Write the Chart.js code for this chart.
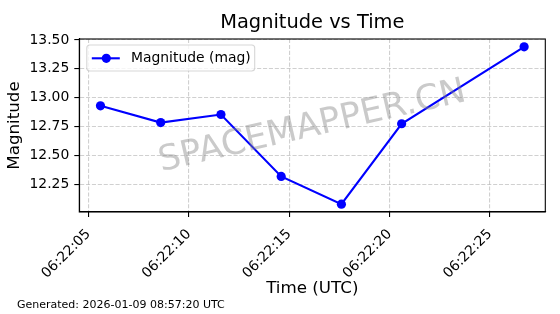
<!DOCTYPE html>
<html><head><meta charset="utf-8">
<script src="https://cdn.jsdelivr.net/npm/chart.js@4.4.1/dist/chart.umd.min.js"></script>
<style>html,body{margin:0;padding:0;background:#fff}canvas{display:block}</style>
</head><body>
<canvas id="c" width="560" height="314"></canvas>
<script>
// ---- data ----
const times = ['06:22:05.6','06:22:08.6','06:22:11.6','06:22:14.6','06:22:17.6','06:22:20.6','06:22:26.7'];
const magnitudes = [12.93, 12.785, 12.855, 12.32, 12.08, 12.775, 13.44];
const xTickLabels = ['06:22:05','06:22:10','06:22:15','06:22:20','06:22:25'];
const yTickLabels = ['12.25','12.50','12.75','13.00','13.25','13.50'];
const seriesLabel = 'Magnitude (mag)';
const chartTitle = 'Magnitude vs Time';
const xTitle = 'Time (UTC)';
const yTitle = 'Magnitude';
const footerText = 'Generated: 2026-01-09 08:57:20 UTC';
const watermarkText = 'SPACEMAPPER.CN';

function toSec(s){const p=s.split(':');return (+p[0])*3600+(+p[1])*60+(+p[2]);}
const base = toSec('06:22:00');
const xs = times.map(t => toSec(t) - base);
const points = xs.map((x,i) => ({x:x, y:magnitudes[i]}));
const xTickVals = xTickLabels.map(l => toSec(l) - base);
const yTickVals = yTickLabels.map(Number);

// matplotlib-like 5% margins
const xMin = Math.min(...xs), xMax = Math.max(...xs), xm = (xMax-xMin)*0.05;
const yMin = Math.min(...magnitudes), yMax = Math.max(...magnitudes), ym = (yMax-yMin)*0.05;

const FONT = 'DejaVu Sans';
const BLUE = '#0000ff';

const decor = {
  id:'decor',
  afterDraw(chart){
    const ctx = chart.ctx, a = chart.chartArea;
    ctx.save();
    // watermark
    ctx.save();
    ctx.translate((a.left+a.right)/2, (a.top+a.bottom)/2 + 1.5);
    ctx.rotate(-13*Math.PI/180);
    ctx.font = '35px "'+FONT+'"';
    ctx.fillStyle = 'rgba(128,128,128,0.42)';
    ctx.textAlign = 'center'; ctx.textBaseline = 'middle';
    ctx.fillText(watermarkText, 0, 0);
    ctx.restore();
    // frame
    ctx.strokeStyle = '#000'; ctx.lineWidth = 1.1;
    ctx.strokeRect(a.left, a.top, a.right-a.left, a.bottom-a.top);
    // legend
    ctx.font = '13.9px "'+FONT+'"';
    const tw = ctx.measureText(seriesLabel).width;
    const bx = a.left+7.5, by = a.top+6, bw = 131+tw+4-bx, bh = 26, r = 3;
    ctx.beginPath();
    ctx.moveTo(bx+r,by); ctx.lineTo(bx+bw-r,by); ctx.arcTo(bx+bw,by,bx+bw,by+r,r);
    ctx.lineTo(bx+bw,by+bh-r); ctx.arcTo(bx+bw,by+bh,bx+bw-r,by+bh,r);
    ctx.lineTo(bx+r,by+bh); ctx.arcTo(bx,by+bh,bx,by+bh-r,r);
    ctx.lineTo(bx,by+r); ctx.arcTo(bx,by,bx+r,by,r); ctx.closePath();
    ctx.fillStyle = 'rgba(255,255,255,0.8)'; ctx.fill();
    ctx.strokeStyle = 'rgba(204,204,204,0.8)'; ctx.lineWidth = 1.1; ctx.stroke();
    const ly = by + bh/2 + 0.3;
    ctx.strokeStyle = BLUE; ctx.lineWidth = 2.1;
    ctx.beginPath(); ctx.moveTo(bx+5, ly); ctx.lineTo(bx+33, ly); ctx.stroke();
    ctx.fillStyle = BLUE; ctx.beginPath(); ctx.arc(bx+19.5, ly, 4.6, 0, Math.PI*2); ctx.fill();
    ctx.fillStyle = '#000'; ctx.textAlign = 'left'; ctx.textBaseline = 'middle';
    ctx.fillText(seriesLabel, 131, ly);
    // title
    ctx.font = '19.4px "'+FONT+'"';
    ctx.textAlign = 'center'; ctx.textBaseline = 'middle';
    ctx.fillText(chartTitle, (a.left+a.right)/2, 23);
    // footer
    ctx.font = '11px "'+FONT+'"';
    ctx.textAlign = 'left';
    ctx.fillText(footerText, 17, 305);
    ctx.restore();
  }
};

new Chart(document.getElementById('c'), {
  type:'line',
  data:{datasets:[{
    label: seriesLabel,
    data: points,
    borderColor: BLUE, backgroundColor: BLUE,
    borderWidth: 2.1, pointRadius: 4.6, pointHoverRadius: 4.6,
    pointBackgroundColor: BLUE, pointBorderWidth: 0,
    tension: 0, fill: false
  }]},
  options:{
    responsive:false, animation:false, devicePixelRatio:1,
    layout:{padding:{top:39, right:14.7, bottom:0, left:0}},
    plugins:{legend:{display:false}, title:{display:false}, tooltip:{enabled:false}},
    scales:{
      x:{
        type:'linear', min:xMin-xm, max:xMax+xm,
        afterBuildTicks(s){ s.ticks = xTickVals.map(v=>({value:v})); },
        afterFit(s){ s.height = 102; },
        ticks:{
          autoSkip:false, maxRotation:45, minRotation:45, padding:9,
          color:'#000', font:{family:FONT, size:13.9},
          callback(v){ const i = xTickVals.indexOf(v); return i>=0 ? xTickLabels[i] : ''; }
        },
        grid:{color:'rgba(176,176,176,0.6)', lineWidth:1.1, drawTicks:true, tickLength:5,
              tickColor:'#000', tickWidth:1.1, tickBorderDash:[]},
        border:{display:true, color:'#000', width:1.1, dash:[4.1,1.8]},
        title:{display:true, text:xTitle, color:'#000', font:{family:FONT, size:16.7, lineHeight:1.2},
               padding:{top:0, bottom:15}}
      },
      y:{
        type:'linear', min:yMin-ym, max:yMax+ym,
        afterBuildTicks(s){ s.ticks = yTickVals.map(v=>({value:v})); },
        afterFit(s){ s.width = 79.3; },
        ticks:{
          padding:5, color:'#000', font:{family:FONT, size:13.9},
          callback(v){ return v.toFixed(2); }
        },
        grid:{color:'rgba(176,176,176,0.6)', lineWidth:1.1, drawTicks:true, tickLength:5,
              tickColor:'#000', tickWidth:1.1, tickBorderDash:[]},
        border:{display:true, color:'#000', width:1.1, dash:[4.1,1.8]},
        title:{display:true, text:yTitle, color:'#000', font:{family:FONT, size:16.7, lineHeight:1.2},
               padding:{top:5, bottom:0}}
      }
    }
  },
  plugins:[decor]
});
</script>
</body></html>
